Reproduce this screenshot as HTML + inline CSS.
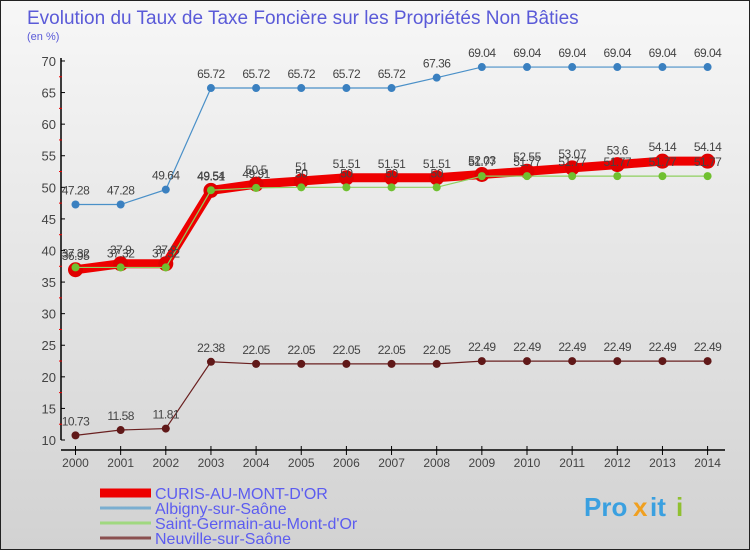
<!DOCTYPE html>
<html><head><meta charset="utf-8"><style>
body{margin:0;width:750px;height:550px;overflow:hidden;font-family:"Liberation Sans",sans-serif}
#c{position:absolute;left:0;top:0;width:748px;height:548px;border:1px solid #222;background:linear-gradient(#f7f7f7,#d2d2d2)}
</style></head><body>
<div id="c"></div>
<svg id="s" width="750" height="550" style="position:absolute;left:0;top:0">
<text x="27" y="24" font-size="19" fill="#5a5ad8">Evolution du Taux de Taxe Foncière sur les Propriétés Non Bâties</text>
<text x="27" y="40" font-size="11" fill="#5a5ad8">(en %)</text>
<g id="axes"></g><g id="series"></g><g id="legend"></g>
<g font-size="26" font-weight="bold">
<text x="584" y="516" fill="#3aa0e0">Pro</text><text x="633" y="516" fill="#f0a020">x</text><text x="650" y="516" fill="#3aa0e0">it</text><text x="676" y="516" fill="#90c030">i</text></g>
</svg>
<script>
const years=[2000,2001,2002,2003,2004,2005,2006,2007,2008,2009,2010,2011,2012,2013,2014];
const yTicks=[10,15,20,25,30,35,40,45,50,55,60,65,70];
const curis=[36.95,37.9,37.9,49.51,50.5,51,51.51,51.51,51.51,52.03,52.55,53.07,53.6,54.14,54.14];
const albigny=[47.28,47.28,49.64,65.72,65.72,65.72,65.72,65.72,67.36,69.04,69.04,69.04,69.04,69.04,69.04];
const stgermain=[37.32,37.32,37.32,49.54,49.91,50,50,50,50,51.77,51.77,51.77,51.77,51.77,51.77];
const neuville=[10.73,11.58,11.81,22.38,22.05,22.05,22.05,22.05,22.05,22.49,22.49,22.49,22.49,22.49,22.49];
const names=["CURIS-AU-MONT-D'OR","Albigny-sur-Saône","Saint-Germain-au-Mont-d'Or","Neuville-sur-Saône"];
const NS="http://www.w3.org/2000/svg";
const X=i=>75.5+i*45.15, Y=v=>440-(v-10)*6.317;
function mk(t,a,p){const e=document.createElementNS(NS,t);for(const k in a)e.setAttribute(k,a[k]);p.appendChild(e);return e;}
const ax=document.getElementById('axes');
let e=mk('line',{x1:61,y1:58,x2:61,y2:440,stroke:'#000','stroke-width':1.5},ax);

e=mk('line',{x1:61,y1:450,x2:725,y2:450,stroke:'#000','stroke-width':1.5},ax);

yTicks.forEach((v,i)=>{
 mk('line',{x1:61,x2:65,y1:Y(v),y2:Y(v),stroke:'#000'},ax);
 if(i<yTicks.length-1)mk('line',{x1:59,x2:62,y1:Y(v+2.5),y2:Y(v+2.5),stroke:'#e00'},ax);
 const t=mk('text',{x:56,y:Y(v)+5,'font-size':13,fill:'#444','text-anchor':'end'},ax);t.textContent=v;
 
});
years.forEach((y,i)=>{
 mk('line',{x1:X(i),x2:X(i),y1:446,y2:455,stroke:'#000'},ax);
 const t=mk('text',{x:X(i),y:467,'font-size':12,fill:'#444','text-anchor':'middle'},ax);t.textContent=y;
 
});
const sg=document.getElementById('series');
function draw(d,col,w,r,fill,name,lbl){
 const g=mk('g',{},sg);
 mk('polyline',{points:d.map((v,i)=>X(i)+','+Y(v)).join(' '),fill:'none',stroke:col,'stroke-width':w},g);
 d.forEach((v,i)=>{const c=mk('circle',{cx:X(i),cy:Y(v),r:r,fill:fill},g);
  
  const t=mk('text',{x:X(i),y:Y(v)-10,'font-size':12,fill:'#444','text-anchor':'middle','letter-spacing':'-0.5'},g);t.textContent=String(v);});
}
draw(albigny,'#4a90c8',1.2,4,'#3a80c0','series-albigny');
draw(neuville,'#6a2020',1.2,4,'#601818','series-neuville');
draw(curis,'#ee0000',9,7.5,'#e00000','series-curis');
draw(stgermain,'#8fd060',1.2,4,'#70c030','series-saint-germain');
const lg=document.getElementById('legend');
const lc=['#ee0000','#7aaed0','#a0d880','#8a5050'],lw=[9,3,3,3];
names.forEach((n,i)=>{const g=mk('g',{},lg);
 mk('line',{x1:100,x2:151,y1:493+i*15,y2:493+i*15,stroke:lc[i],'stroke-width':lw[i]},g);
 const t=mk('text',{x:155,y:499+i*15,'font-size':16,fill:'#5c5cf0'},g);t.textContent=n;});
</script>
</body></html>
